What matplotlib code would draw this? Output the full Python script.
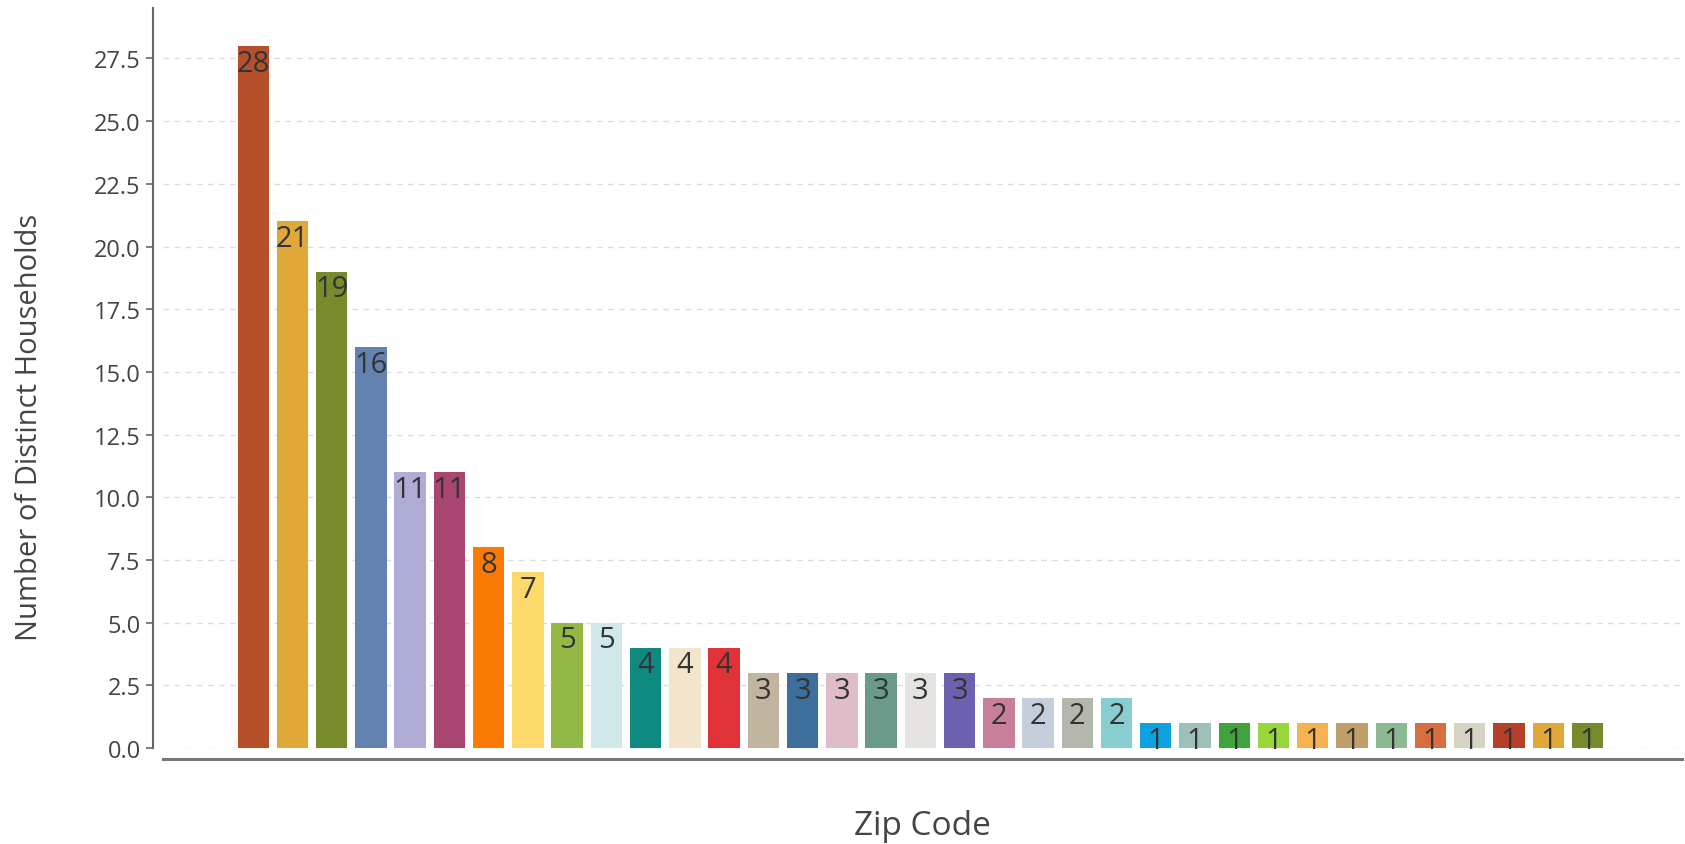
import matplotlib.pyplot as plt
import numpy as np

plt.rcParams['font.family'] = ['Open Sans', 'DejaVu Sans']

# households per zip code, sorted descending (zip labels are not shown on the chart)
counts = [28, 21, 19, 16, 11, 11, 8, 7, 5, 5, 4, 4, 4,
          3, 3, 3, 3, 3, 3, 2, 2, 2, 2,
          1, 1, 1, 1, 1, 1, 1, 1, 1, 1, 1, 1]
zips = ['zip_%02d' % (i + 1) for i in range(len(counts))]
colors = ['#b5502b', '#e0a838', '#778a2c', '#6482b0', '#b0acd6', '#a84671',
          '#fa7a05', '#fdd86a', '#93b846', '#d0e8ea', '#0f8a80', '#f3e4cc',
          '#e03237', '#c2b59f', '#3d6e9c', '#dfbdc8', '#6c9a8a', '#e6e4e0',
          '#6c61ae', '#c77f9c', '#c5cfdc', '#b3b7ad', '#88cdd0', '#0da2e0',
          '#9fbfb9', '#3fa43c', '#98d63a', '#f5b24e', '#c0a06a', '#8db992',
          '#d86d3f', '#d7d2c2', '#b5402a', '#e0a838', '#778a2c']
yticks = np.arange(0, 28, 2.5)

fig = plt.figure(figsize=(16.85, 8.45), dpi=100)
ax = fig.add_axes([0.0967, 0.1136, 0.9013, 0.8754])

x = np.arange(len(counts))
bars = ax.bar(x, counts, width=0.8, color=colors, zorder=2)
for xi, c in zip(x, counts):
    ax.annotate(str(c), (xi, c), xytext=(0, -2), textcoords='offset points',
                ha='center', va='top', fontsize=21, color='#333333', zorder=3)

ax.set_xlim(-2.3, len(counts) + 1.4)
ax.set_ylim(0, 29.5)
ax.set_xticks([])
ax.set_yticks(yticks)
ax.set_yticklabels(['%.1f' % v for v in yticks])
ax.tick_params(axis='y', length=5, width=1.2, color='#666666', pad=4,
               labelsize=17, labelcolor='#444444')
ax.yaxis.grid(True, linestyle=(0, (4, 4)), color='#dddddd', linewidth=1, zorder=0)

for s in ['top', 'right']:
    ax.spines[s].set_visible(False)
ax.spines['left'].set_position(('outward', 7))
ax.spines['bottom'].set_position(('outward', 8))
ax.spines['left'].set_color('#666666')
ax.spines['left'].set_linewidth(1.5)
ax.spines['bottom'].set_color('#777777')
ax.spines['bottom'].set_linewidth(2.2)

ax.set_ylabel('Number of Distinct Households', fontsize=21, color='#444444')
ax.yaxis.set_label_coords(-0.078, 0.435)
ax.set_xlabel('Zip Code', fontsize=24, color='#444444', labelpad=36)

fig.savefig('out.png', dpi=100)
